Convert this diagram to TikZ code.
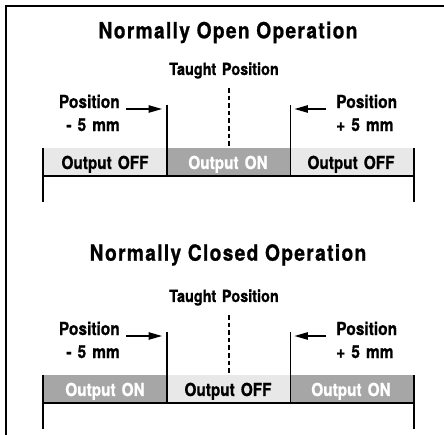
\documentclass[tikz,border=0pt]{standalone}
\usepackage{fontspec}
\setmainfont{TeX Gyre Heros}
\newfontfamily\condfont{TeX Gyre Heros}[FakeStretch=0.86, BoldFeatures={FakeBold=0.8}, WordSpace=1.4]
\newfontfamily\headfont{TeX Gyre Heros}[FakeStretch=0.86, LetterSpace=6, BoldFeatures={FakeBold=0.9}]
\usepackage{tikz}
\usetikzlibrary{arrows.meta}

\definecolor{offgray}{RGB}{232,232,232}
\definecolor{ongray}{RGB}{166,166,166}

\tikzset{
  headtext/.style={anchor=base,inner sep=0pt,font=\headfont\fontsize{16.7}{19}\selectfont\bfseries},
  taughttext/.style={anchor=base,inner sep=0pt,font=\condfont\fontsize{12.6}{15}\selectfont\bfseries},
  postext/.style={inner sep=0pt,font=\condfont\fontsize{13.5}{17.25}\selectfont\bfseries},
  outtext/.style={anchor=base,inner sep=0pt,font=\condfont\fontsize{13.4}{15}\selectfont\bfseries},
  markline/.style={line width=1pt},
  pointer/.style={line width=1pt,-{Triangle[length=10pt,width=5.5pt]}},
}

\begin{document}
\begin{tikzpicture}[x=0.75pt,y=0.75pt,yscale=-1,xscale=1]
    \useasboundingbox (0,0) rectangle (444,435);

    % frame
    \draw [line width=1.6pt] (6,435) -- (6,6) -- (444,6) ;

    %%%% Normally open
    % bar fills
    \fill [offgray] (43,148) rectangle (167,176) ;
    \fill [ongray] (167,148) rectangle (290.5,176) ;
    \fill [offgray] (290.5,148) rectangle (414,176) ;
    % bar lines
    \draw [markline] (43,148) -- (43,202) (414,148) -- (414,202) (43,176) -- (414,176) ;
    \draw [markline] (167,105) -- (167,176) (290.5,105) -- (290.5,176) ;
    \draw [line width=0.8pt, dash pattern=on 3.5pt off 2.2pt] (229,88) -- (229,148) ;

    % Text Node
    \node [headtext] (title-no) at (228,38.3) {Normally Open Operation};
    % Text Node
    \node [taughttext] (taught-no) at (224,75) {Taught Position};
    % Text Node
    \node [postext, align=right, anchor=east] (minus-no) at (120,112.9) {Position\\- 5 mm};
    % Text Node
    \node [postext, align=left, anchor=west] (plus-no) at (336,112.9) {Position\\+ 5 mm};
    % Text Node
    \node [outtext] (offl-no) at (105,169) {Output OFF};
    % Text Node
    \node [outtext, white] (on-no) at (228,169) {Output ON};
    % Text Node
    \node [outtext] (offr-no) at (351,169) {Output OFF};

    % pointers
    \coordinate (ls-no) at (126,109) ;
    \coordinate (lt-no) at (162,109) ;
    \coordinate (rs-no) at (326,109) ;
    \coordinate (rt-no) at (294.5,109) ;
    \draw [pointer] (ls-no) -- (lt-no) ;
    \draw [pointer] (rs-no) -- (rt-no) ;

    %%%% Normally closed
    % bar fills
    \fill [ongray] (43,375) rectangle (167,403) ;
    \fill [offgray] (167,375) rectangle (290.5,403) ;
    \fill [ongray] (290.5,375) rectangle (414,403) ;
    % bar lines
    \draw [markline] (43,375) -- (43,429) (414,375) -- (414,429) (43,403) -- (414,403) ;
    \draw [markline] (167,332) -- (167,403) (290.5,332) -- (290.5,403) ;
    \draw [line width=0.8pt, dash pattern=on 3.5pt off 2.2pt] (229,315) -- (229,375) ;

    % Text Node
    \node [headtext] (title-nc) at (228,260.7) {Normally Closed Operation};
    % Text Node
    \node [taughttext] (taught-nc) at (224,302) {Taught Position};
    % Text Node
    \node [postext, align=right, anchor=east] (minus-nc) at (120,339.9) {Position\\- 5 mm};
    % Text Node
    \node [postext, align=left, anchor=west] (plus-nc) at (336,339.9) {Position\\+ 5 mm};
    % Text Node
    \node [outtext, white] (onl-nc) at (105,396) {Output ON};
    % Text Node
    \node [outtext] (off-nc) at (228,396) {Output OFF};
    % Text Node
    \node [outtext, white] (onr-nc) at (351,396) {Output ON};

    % pointers
    \coordinate (ls-nc) at (126,336) ;
    \coordinate (lt-nc) at (162,336) ;
    \coordinate (rs-nc) at (326,336) ;
    \coordinate (rt-nc) at (294.5,336) ;
    \draw [pointer] (ls-nc) -- (lt-nc) ;
    \draw [pointer] (rs-nc) -- (rt-nc) ;

\end{tikzpicture}
\end{document}
